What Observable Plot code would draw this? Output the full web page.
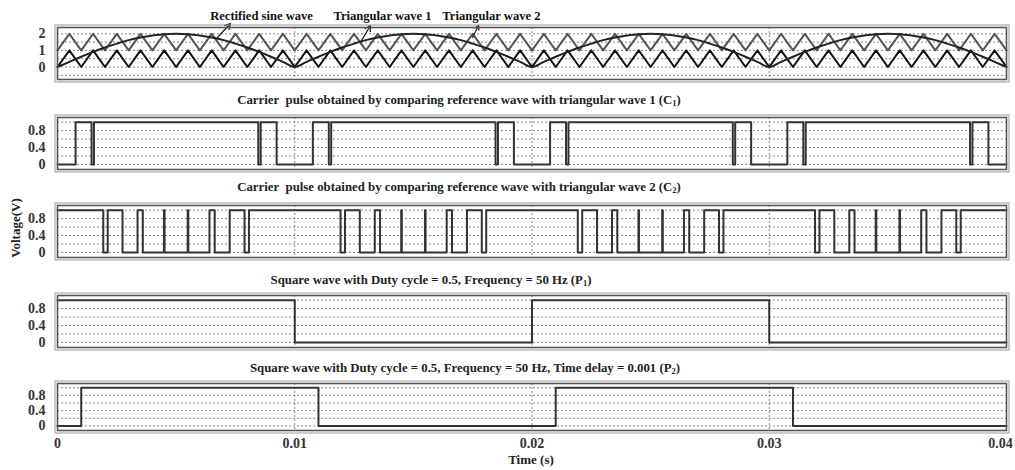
<!DOCTYPE html>
<html><head><meta charset="utf-8">
<script src="https://cdn.jsdelivr.net/npm/d3@7"></script>
<script src="https://cdn.jsdelivr.net/npm/@observablehq/plot@0.6"></script>
<style>
body{margin:0;background:#fff;}
#chart{position:relative;width:1015px;height:470px;font-family:'Liberation Serif','Times New Roman',serif;font-weight:bold;color:#222;overflow:hidden;}
.panel{position:absolute;left:0;}
.title{position:absolute;font-size:12.8px;white-space:nowrap;line-height:13px;transform:translateX(-50%);}
.title sub{font-size:8.5px;vertical-align:-2px;line-height:0;}
.ylab{position:absolute;left:16px;top:228px;font-size:13px;white-space:nowrap;transform:translate(-50%,-50%) rotate(-90deg);}
.xlab{position:absolute;left:531px;top:460px;font-size:13px;white-space:nowrap;transform:translate(-50%,-50%);}
</style></head><body><div id="chart"></div><script>
// ---- data (time in ms) ----
const timeMs = [0,0.5,1,1.5,2,2.5,3,3.5,4,4.5,5,5.5,6,6.5,7,7.5,8,8.5,9,9.5,
10,10.5,11,11.5,12,12.5,13,13.5,14,14.5,15,15.5,16,16.5,17,17.5,18,18.5,19,19.5,
20,20.5,21,21.5,22,22.5,23,23.5,24,24.5,25,25.5,26,26.5,27,27.5,28,28.5,29,29.5,
30,30.5,31,31.5,32,32.5,33,33.5,34,34.5,35,35.5,36,36.5,37,37.5,38,38.5,39,39.5,40];
const triWave1 = [0,1,0,1,0,1,0,1,0,1,0,1,0,1,0,1,0,1,0,1,
0,1,0,1,0,1,0,1,0,1,0,1,0,1,0,1,0,1,0,1,
0,1,0,1,0,1,0,1,0,1,0,1,0,1,0,1,0,1,0,1,
0,1,0,1,0,1,0,1,0,1,0,1,0,1,0,1,0,1,0,1,0];
const triWave2 = [1,2,1,2,1,2,1,2,1,2,1,2,1,2,1,2,1,2,1,2,
1,2,1,2,1,2,1,2,1,2,1,2,1,2,1,2,1,2,1,2,
1,2,1,2,1,2,1,2,1,2,1,2,1,2,1,2,1,2,1,2,
1,2,1,2,1,2,1,2,1,2,1,2,1,2,1,2,1,2,1,2,1];
const rectifiedSine = [0,0.31,0.62,0.91,1.18,1.41,1.62,1.78,1.9,1.98,2,1.98,1.9,1.78,1.62,1.41,1.18,0.91,0.62,0.31,
0,0.31,0.62,0.91,1.18,1.41,1.62,1.78,1.9,1.98,2,1.98,1.9,1.78,1.62,1.41,1.18,0.91,0.62,0.31,
0,0.31,0.62,0.91,1.18,1.41,1.62,1.78,1.9,1.98,2,1.98,1.9,1.78,1.62,1.41,1.18,0.91,0.62,0.31,
0,0.31,0.62,0.91,1.18,1.41,1.62,1.78,1.9,1.98,2,1.98,1.9,1.78,1.62,1.41,1.18,0.91,0.62,0.31,0];

const c1TimeMs = [0,0.763,1.435,1.537,8.463,8.565,9.237,10.763,11.435,11.537,18.463,18.565,19.237,
20.763,21.435,21.537,28.463,28.565,29.237,30.763,31.435,31.537,38.463,38.565,39.237,40];
const c1Level = [0,1,0,1,0,1,0,1,0,1,0,1,0,1,0,1,0,1,0,1,0,1,0,1,0,0];

const c2TimeMs = [0,
1.93,2.117,2.742,3.373,3.595,4.487,4.512,5.488,5.513,6.405,6.627,7.258,7.883,8.07,
11.93,12.117,12.742,13.373,13.595,14.487,14.512,15.488,15.513,16.405,16.627,17.258,17.883,18.07,
21.93,22.117,22.742,23.373,23.595,24.487,24.512,25.488,25.513,26.405,26.627,27.258,27.883,28.07,
31.93,32.117,32.742,33.373,33.595,34.487,34.512,35.488,35.513,36.405,36.627,37.258,37.883,38.07,40];
const c2Level = [1,
0,1,0,1,0,1,0,1,0,1,0,1,0,1,
0,1,0,1,0,1,0,1,0,1,0,1,0,1,
0,1,0,1,0,1,0,1,0,1,0,1,0,1,
0,1,0,1,0,1,0,1,0,1,0,1,0,1,1];

const p1TimeMs = [0,10,20,30,40];
const p1Level = [1,0,1,0,0];
const p2TimeMs = [0,1,11,21,31,40];
const p2Level = [0,1,0,1,0,0];

const xTicksMs = [0,10,20,30,40];
const waveLabels = ["Rectified sine wave","Triangular wave 1","Triangular wave 2"];
const labelX = [8.6,13.7,18.29];
const labelY = [3.1,3.1,3.1];
const arrowFromX = [6.74,12.77,17.49];
const arrowFromY = [1.78,1.48,1.78];
const arrowToX = [7.29,13.19,17.75];
const arrowToY = [2.62,2.5,2.5];

const titles = [
  'Carrier&nbsp; pulse obtained by comparing reference wave with triangular wave 1 (C<sub>1</sub>)',
  'Carrier&nbsp; pulse obtained by comparing reference wave with triangular wave 2 (C<sub>2</sub>)',
  'Square wave with Duty cycle = 0.5, Frequency = 50 Hz (P<sub>1</sub>)',
  'Square wave with Duty cycle = 0.5, Frequency = 50 Hz, Time delay = 0.001 (P<sub>2</sub>)'
];

// ---- build ----
const chart = document.getElementById("chart");
const W = 1015, ML = 57, MR = 9;
const gridStyle = {stroke:"#888", strokeWidth:1, strokeDasharray:"2,2"};
const pulseGrid = [0,0.2,0.4,0.6,0.8,1];
const style = {fontFamily:"'Liberation Serif','Times New Roman',serif", fontSize:"14px", fontWeight:"bold", color:"#333", background:"transparent", overflow:"visible"};
const fmt = d => String(d);

function frames(){ return [Plot.frame({stroke:"#555", strokeWidth:1.6}), Plot.frame({stroke:"#999", strokeWidth:1, inset:-2.5})]; }
function place(svg, top){ svg.classList.add("panel"); svg.style.top = top + "px"; chart.appendChild(svg); }

const rows = (ts, vs) => ts.map((t,i)=>({t, v:vs[i]}));
// Panel 1
{
  const svg = Plot.plot({
    width:W, height:79, marginLeft:ML, marginRight:MR, marginTop:27, marginBottom:0, style,
    x:{domain:[0,40], axis:null},
    y:{domain:[-0.75,2.38], ticks:[0,1,2], tickFormat:fmt, tickSize:0, tickPadding:12, label:null},
    marks:[
      Plot.ruleY([-0.5,0,0.5,1,1.5,2], gridStyle),
      Plot.ruleX([10,20,30], gridStyle),
      Plot.line(rows(timeMs, triWave2), {x:"t", y:"v", stroke:"#555", strokeWidth:2}),
      Plot.line(rows(timeMs, triWave1), {x:"t", y:"v", stroke:"#111", strokeWidth:2}),
      Plot.line(rows(timeMs, rectifiedSine), {x:"t", y:"v", stroke:"#222", strokeWidth:2, curve:"monotone-x"}),
      Plot.arrow(waveLabels, {x1:(d,i)=>arrowFromX[i], y1:(d,i)=>arrowFromY[i], x2:(d,i)=>arrowToX[i], y2:(d,i)=>arrowToY[i], stroke:"#222", strokeWidth:1.3, headLength:7}),
      Plot.text(waveLabels, {x:(d,i)=>labelX[i], y:(d,i)=>labelY[i], text:d=>d, fontSize:12.6, fontWeight:"bold", fill:"#111"}),
      ...frames()
    ]
  });
  place(svg, 0);
}

function pulsePanel(ts, vs, top, mt, fh, mb, xaxis){
  const svg = Plot.plot({
    width:W, height:mt+fh+mb, marginLeft:ML, marginRight:MR, marginTop:mt, marginBottom:mb, style,
    x: xaxis ? {domain:[0,40], ticks:xTicksMs, tickFormat:d=>String(d/1000), tickSize:0, tickPadding:8, label:null}
             : {domain:[0,40], axis:null},
    y:{domain:[-0.12,1.11], ticks:[0,0.4,0.8], tickFormat:fmt, tickSize:0, tickPadding:12, label:null},
    marks:[
      Plot.ruleY(pulseGrid, gridStyle),
      Plot.ruleX([10,20,30], gridStyle),
      Plot.line(rows(ts, vs), {x:"t", y:"v", stroke:"#333", strokeWidth:2, curve:"step-after"}),
      ...frames()
    ]
  });
  if (xaxis) {
    const labels = svg.querySelectorAll('[aria-label="x-axis tick label"] text');
    const last = labels[labels.length-1];
    if (last) last.setAttribute("dx", "-6");
  }
  place(svg, top);
}
pulsePanel(c1TimeMs, c1Level, 90, 27, 52, 0, false);
pulsePanel(c2TimeMs, c2Level, 180, 25, 52, 0, false);
pulsePanel(p1TimeMs, p1Level, 270, 25, 52, 0, false);
pulsePanel(p2TimeMs, p2Level, 360, 23, 47, 40, true);

const titlePos = [[459,94],[459,181],[431,274],[465,362]];
titles.forEach((h,i)=>{
  const d = document.createElement("div");
  d.className = "title"; d.innerHTML = h;
  d.style.left = titlePos[i][0]+"px"; d.style.top = titlePos[i][1]+"px";
  chart.appendChild(d);
});
const yl = document.createElement("div"); yl.className="ylab"; yl.textContent="Voltage(V)"; chart.appendChild(yl);
const xl = document.createElement("div"); xl.className="xlab"; xl.textContent="Time (s)"; chart.appendChild(xl);
</script></body></html>
